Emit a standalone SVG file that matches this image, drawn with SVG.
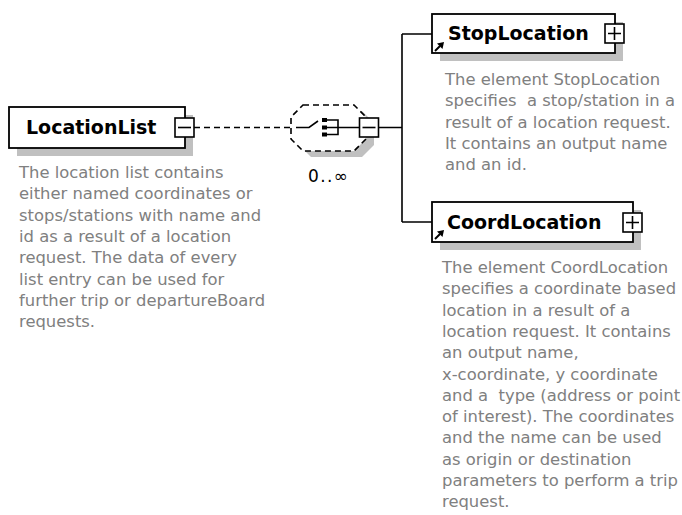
<svg xmlns="http://www.w3.org/2000/svg" width="682" height="515" viewBox="0 0 682 515">
<style>
.box{fill:#fff;stroke:#000;stroke-width:1.8}
.shadow{fill:#c0c0c0;stroke:none}
.title{font-family:"DejaVu Sans",Verdana,sans-serif;font-weight:bold;font-size:19px;fill:#000}
.desc{font-family:"DejaVu Sans",Tahoma,sans-serif;font-size:16.4px;fill:#808080;white-space:pre}
.line{stroke:#000;stroke-width:1.6;fill:none}
.dash{stroke:#000;stroke-width:1.6;fill:none;stroke-dasharray:6 4}
.btn{fill:#fff;stroke:#000;stroke-width:1.6}
.sym{stroke:#000;stroke-width:1.6;fill:none}
</style>
<defs>
<g id="arrow">
<line x1="0" y1="9" x2="5" y2="4" stroke="#000" stroke-width="2"/>
<polygon points="9,0 2,1.5 7.5,7" fill="#000"/>
</g>
</defs>

<g id="connectors">
<path class="dash" d="M194,127.5 H291"/>
<path class="line" d="M378.5,127.5 H402 M402,34 V222 M402,34 H432 M402,222 H432"/>
</g>

<g id="LocationList">
<rect class="shadow" x="17" y="115" width="176" height="41"/>
<rect class="box" x="9" y="107" width="176" height="41"/>
<text class="title" x="26" y="134">LocationList</text>
<rect class="btn" x="175" y="118" width="19" height="19"/>
<path class="sym" d="M178,127.5 H191"/>
<text class="desc" x="19" y="178">The location list contains</text>
<text class="desc" x="19" y="199.3">either named coordinates or</text>
<text class="desc" x="19" y="220.6">stops/stations with name and</text>
<text class="desc" x="19" y="241.9">id as a result of a location</text>
<text class="desc" x="19" y="263.2">request. The data of every</text>
<text class="desc" x="19" y="284.5">list entry can be used for</text>
<text class="desc" x="19" y="305.8">further trip or departureBoard</text>
<text class="desc" x="19" y="327.1">requests.</text>
</g>

<g id="choice">
<polygon class="shadow" points="311,111 362,111 374,123 374,145 362,157 311,157 299,145 299,123"/>
<polygon class="dash" points="303,105 354,105 366,117 366,139 354,151 303,151 291,139 291,117" style="fill:#fff"/>
<path class="sym" d="M296,127.5 H309 L318,121"/>
<rect x="322" y="118" width="5" height="4" fill="#000"/>
<rect x="322" y="125.5" width="5" height="4" fill="#000"/>
<rect x="322" y="132.5" width="5" height="4" fill="#000"/>
<path class="sym" d="M327,120 H338 V134.5 H327 M327,127.5 H359"/>
<rect class="btn" x="359.5" y="118" width="19" height="19"/>
<path class="sym" d="M362.5,127.5 H375.5"/>
<text x="328" y="182" text-anchor="middle" font-family="DejaVu Sans, sans-serif" font-size="17" textLength="40" fill="#000">0..∞</text>
</g>

<g id="StopLocation">
<rect class="shadow" x="440" y="22" width="183" height="39"/>
<rect class="box" x="432" y="14" width="183" height="39"/>
<use href="#arrow" x="435" y="42"/>
<text class="title" x="448" y="40">StopLocation</text>
<rect class="btn" x="605" y="24" width="19" height="19"/>
<path class="sym" d="M608,33.5 H621 M614.5,27 V40"/>
<text class="desc" x="445" y="85">The element StopLocation</text>
<text class="desc" x="445" y="106.3">specifies  a stop/station in a</text>
<text class="desc" x="445" y="127.6">result of a location request.</text>
<text class="desc" x="445" y="148.9">It contains an output name</text>
<text class="desc" x="445" y="170.2">and an id.</text>
</g>

<g id="CoordLocation">
<rect class="shadow" x="440" y="210" width="201" height="40"/>
<rect class="box" x="432" y="202" width="201" height="40"/>
<use href="#arrow" x="435" y="230"/>
<text class="title" x="447" y="229">CoordLocation</text>
<rect class="btn" x="623" y="213" width="19" height="19"/>
<path class="sym" d="M626,222.5 H639 M632.5,216 V229"/>
<text class="desc" x="442" y="273">The element CoordLocation</text>
<text class="desc" x="442" y="294.3">specifies a coordinate based</text>
<text class="desc" x="442" y="315.6">location in a result of a</text>
<text class="desc" x="442" y="336.9">location request. It contains</text>
<text class="desc" x="442" y="358.2">an output name,</text>
<text class="desc" x="442" y="379.5">x-coordinate, y coordinate</text>
<text class="desc" x="442" y="400.8">and a  type (address or point</text>
<text class="desc" x="442" y="422.1">of interest). The coordinates</text>
<text class="desc" x="442" y="443.4">and the name can be used</text>
<text class="desc" x="442" y="464.7">as origin or destination</text>
<text class="desc" x="442" y="486">parameters to perform a trip</text>
<text class="desc" x="442" y="507.3">request.</text>
</g>
</svg>
